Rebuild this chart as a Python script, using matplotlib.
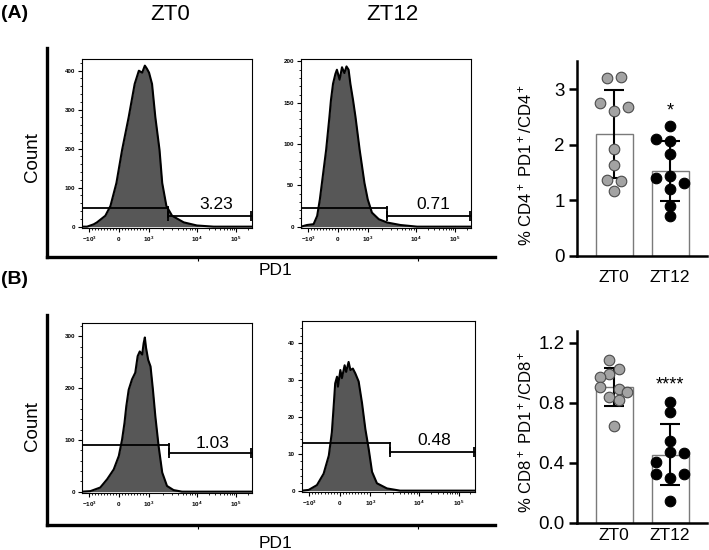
import numpy as np
import matplotlib
matplotlib.use('Agg')
import matplotlib.pyplot as plt

plt.rcParams['font.family'] = ['Liberation Sans', 'DejaVu Sans']
plt.rcParams['mathtext.fontset'] = 'custom'
plt.rcParams['mathtext.rm'] = 'Liberation Sans'
plt.rcParams['mathtext.bf'] = 'Liberation Sans:bold'
plt.rcParams['mathtext.default'] = 'regular'

# PD1 axis in display units (0 -> 0, 1 -> 10^3, 2.6 -> 10^4, 3.9 -> 10^5)
pd1_ticks = [-1, 0, 1, 2.6, 3.9]
pd1_labels = [r'$\mathbf{-10^3}$', r'$\mathbf{0}$', r'$\mathbf{10^3}$', r'$\mathbf{10^4}$', r'$\mathbf{10^5}$']
pd1_lim = (-1.24, 4.44)

# histograms
a_zt0_x = [-1.24, -1.07, -0.85, -0.74, -0.46, -0.29, -0.09, 0.10, 0.32, 0.52, 0.66, 0.77,
           0.86, 0.93, 1.00, 1.10, 1.21, 1.35, 1.44, 1.58, 1.77, 2.16, 2.60, 3.16, 4.44]
a_zt0_y = [0, 0, 6, 11, 28, 53, 112, 197, 281, 366, 400, 395,
           413, 405, 395, 366, 281, 197, 112, 53, 28, 11, 3, 0, 0]
a_zt12_x = [-1.24, -1.04, -0.82, -0.70, -0.61, -0.54, -0.40, -0.29, -0.24, -0.17, -0.09, -0.04,
            0.05, 0.13, 0.21, 0.28, 0.35, 0.41, 0.50, 0.58, 0.72, 0.88, 0.99, 1.13, 1.36,
            1.64, 2.08, 2.64, 4.44]
a_zt12_y = [0, 2, 3, 13, 33, 53, 93, 133, 153, 173, 185, 190,
            178, 193, 186, 194, 190, 173, 153, 133, 93, 53, 33, 17, 9,
            5, 2, 0, 0]
b_zt0_x = [-1.24, -0.96, -0.63, -0.40, -0.18, -0.01, 0.10, 0.18, 0.24, 0.32, 0.43, 0.54, 0.62,
           0.69, 0.77, 0.82, 0.86, 0.90, 0.97, 1.05, 1.13, 1.21, 1.32, 1.44, 1.60, 1.82, 2.10, 4.44]
b_zt0_y = [0, 1, 8, 24, 43, 69, 101, 133, 165, 197, 217, 230, 262,
           271, 265, 287, 298, 278, 255, 242, 197, 146, 88, 37, 11, 3, 0, 0]
b_zt12_x = [-1.24, -1.02, -0.75, -0.53, -0.36, -0.26, -0.20, -0.15, -0.09, -0.06, 0.02, 0.07,
            0.16, 0.21, 0.29, 0.35, 0.43, 0.51, 0.62, 0.73, 0.84, 0.95, 1.06, 1.22, 1.55, 1.98, 4.44]
b_zt12_y = [0, 0.2, 1.5, 4.6, 9.5, 15.8, 22.9, 29.1, 30.9, 28.2, 32.7, 30.5,
            34.0, 32.2, 34.9, 32.7, 33.1, 31.8, 29.6, 23.8, 16.7, 11.3, 5.1, 2.0, 0.6, 0, 0]

# gates: split position, left height, right height, percentage
gates = {
    'a_zt0': (1.62, 47, 28, '3.23'),
    'a_zt12': (1.64, 23, 13, '0.71'),
    'b_zt0': (1.66, 90, 74, '1.03'),
    'b_zt12': (1.66, 12.8, 10.4, '0.48'),
}

# summary dot plots
groups = ['ZT0', 'ZT12']
cd4_zt0 = [3.19, 3.22, 2.74, 2.60, 2.68, 1.92, 1.63, 1.37, 1.35, 1.17]
cd4_zt12 = [2.34, 2.10, 2.07, 1.83, 1.41, 1.44, 1.31, 1.20, 0.90, 0.71]
cd8_zt0 = [1.084, 1.022, 0.991, 0.973, 0.907, 0.891, 0.873, 0.840, 0.818, 0.644]
cd8_zt12 = [0.807, 0.740, 0.547, 0.473, 0.407, 0.462, 0.324, 0.324, 0.296, 0.144]
# horizontal spread of the dots (layout only)
cd4_zt0_dx = [-0.12, 0.12, -0.25, 0, 0.24, 0, 0, -0.12, 0.12, 0]
cd4_zt12_dx = [0, -0.25, 0, 0, -0.25, 0, 0.25, 0, 0, 0]
cd8_zt0_dx = [-0.10, 0.08, -0.10, -0.26, -0.26, 0.08, 0.23, -0.10, 0.08, 0]
cd8_zt12_dx = [0, 0, 0, 0, -0.26, 0.24, -0.26, 0.24, 0, 0]

W, H = 709, 550
fig = plt.figure(figsize=(W / 100, H / 100), dpi=100)


def rect(x0, y0, x1, y1):
    # pixel box (top-left origin) -> figure fraction
    return [x0 / W, 1 - y1 / H, (x1 - x0) / W, (y1 - y0) / H]


def frame(y_top, y_bot, count_y, pd1_y):
    ax = fig.add_axes(rect(47, y_top, 495, y_bot), zorder=0)
    ax.set_facecolor('none')
    for s in ['top', 'right']:
        ax.spines[s].set_visible(False)
    for s in ['left', 'bottom']:
        ax.spines[s].set_linewidth(2.4)
    ax.set_xlim(0, 1)
    ax.set_ylim(0, 1)
    ax.set_yticks([])
    ax.set_xticks([0.337, 0.828])
    ax.set_xticklabels([])
    ax.tick_params(axis='x', length=3, width=0.8)
    fig.text(33 / W, 1 - count_y / H, 'Count', rotation=90, ha='center', va='center', fontsize=13.5)
    fig.text(276 / W, 1 - pd1_y / H, 'PD1', ha='center', va='center', fontsize=12.5)


def histo(box, x, y, ymax, yt, yminor, key, lab_pos):
    ax = fig.add_axes(rect(*box), zorder=2)
    ax.fill_between(x, y, color='#575757', lw=0)
    ax.plot(x, y, color='black', lw=1.5)
    split, h1, h2, pct = gates[key]
    ax.plot([pd1_lim[0], split], [h1, h1], color='black', lw=1.3)
    ax.plot([split, pd1_lim[1] - 0.02], [h2, h2], color='black', lw=1.3,
            marker='|', ms=7, mew=1.3)
    ax.plot([split], [(h1 + h2) / 2], color='black', marker='|', ms=9, mew=1.3)
    ax.text(lab_pos[0], lab_pos[1], pct, transform=ax.transAxes, ha='center', va='center',
            fontsize=12.5)
    ax.set_xlim(*pd1_lim)
    ax.set_ylim(-ymax * 0.008, ymax)
    ax.set_xticks(pd1_ticks)
    ax.set_xticklabels(pd1_labels)
    minor_x = [i / 10 for i in range(-9, 10) if i != 0]
    minor_x += [1 + 1.6 * np.log10(m) for m in range(2, 10)]
    minor_x += [2.6 + 1.3 * np.log10(m) for m in range(2, 10)]
    minor_x += [3.9 + 1.3 * np.log10(2)]
    ax.set_xticks(minor_x, minor=True)
    ax.set_yticks(yt)
    ax.set_yticklabels([str(v) for v in yt])
    ax.set_yticks(np.arange(0, ymax, yminor), minor=True)
    ax.tick_params(which='major', length=3, width=0.8, labelsize=4.5, pad=2)
    ax.tick_params(which='minor', length=1.6, width=0.6)
    for lbl in ax.get_yticklabels():
        lbl.set_fontweight('bold')
    for s in ax.spines.values():
        s.set_linewidth(0.8)
    return ax


def dots(box, v0, v1, dx0, dx1, ylim, yt, ytl, ylabel, label_y, star, star_y, pad):
    ax = fig.add_axes(rect(*box), zorder=2)
    means = [np.mean(v0), np.mean(v1)]
    sds = [np.std(v0, ddof=1), np.std(v1, ddof=1)]
    ax.bar([0, 1], means, width=0.66, color='white', edgecolor='#7a7a7a', lw=1.0, zorder=1)
    ax.errorbar([0, 1], means, yerr=sds, fmt='none', ecolor='black', elinewidth=1.5,
                capsize=7, capthick=1.5, zorder=2)
    ax.scatter(np.array(dx0), v0, s=58, color='#a3a3a3', edgecolors='#4a4a4a', lw=0.8, zorder=3)
    ax.scatter(1 + np.array(dx1), v1, s=58, color='black', edgecolors='black', lw=0.8, zorder=3)
    ax.text(1, star_y, star, ha='center', va='center', fontsize=13)
    ax.set_xlim(-0.664, 1.657)
    ax.set_ylim(*ylim)
    ax.set_yticks(yt)
    ax.set_yticklabels(ytl)
    ax.set_xticks([0, 1])
    ax.set_xticklabels(groups)
    ax.tick_params(axis='y', length=6, width=1.8, labelsize=13.5, pad=3)
    ax.tick_params(axis='x', length=0, labelsize=12.5, pad=pad)
    for s in ['top', 'right']:
        ax.spines[s].set_visible(False)
    for s in ['left', 'bottom']:
        ax.spines[s].set_linewidth(1.8)
    ax.spines['bottom'].set_bounds(-0.664, 1.657)
    fig.text(525 / W, 1 - label_y / H, ylabel, rotation=90, ha='center', va='center', fontsize=12)
    return ax


# panel letters and column titles
fig.text(1 / W, 1 - 14 / H, '(A)', fontsize=14, fontweight='bold', va='center')
fig.text(1 / W, 1 - 280 / H, '(B)', fontsize=14, fontweight='bold', va='center')
fig.text(170 / W, 1 - 14 / H, 'ZT0', fontsize=16, ha='center', va='center')
fig.text(392 / W, 1 - 14 / H, 'ZT12', fontsize=16, ha='center', va='center')

frame(48, 257, 157, 270)
frame(315, 525, 426, 543)

histo((82, 59, 252, 228), a_zt0_x, a_zt0_y, 430, [0, 100, 200, 300, 400], 20, 'a_zt0', (0.79, 0.14))
histo((301, 59, 471, 228), a_zt12_x, a_zt12_y, 203, [0, 50, 100, 150, 200], 10, 'a_zt12', (0.776, 0.14))
histo((82, 323, 252, 493), b_zt0_x, b_zt0_y, 326, [0, 100, 200, 300], 20, 'b_zt0', (0.77, 0.294))
histo((302, 321, 475, 492), b_zt12_x, b_zt12_y, 46, [0, 10, 20, 30, 40], 2, 'b_zt12', (0.763, 0.304))

dots((577, 61.2, 707, 256), cd4_zt0, cd4_zt12, cd4_zt0_dx, cd4_zt12_dx, (0, 3.5),
     [0, 1, 2, 3], ['0', '1', '2', '3'], r'% CD4$^+$ PD1$^+$/CD4$^+$', 165, '*', 2.6, 10)
dots((577, 330.7, 707, 522.7), cd8_zt0, cd8_zt12, cd8_zt0_dx, cd8_zt12_dx, (0, 1.28),
     [0, 0.4, 0.8, 1.2], ['0.0', '0.4', '0.8', '1.2'], r'% CD8$^+$ PD1$^+$/CD8$^+$', 432, '****', 0.92, 3.5)

fig.savefig('out.png', dpi=100)
